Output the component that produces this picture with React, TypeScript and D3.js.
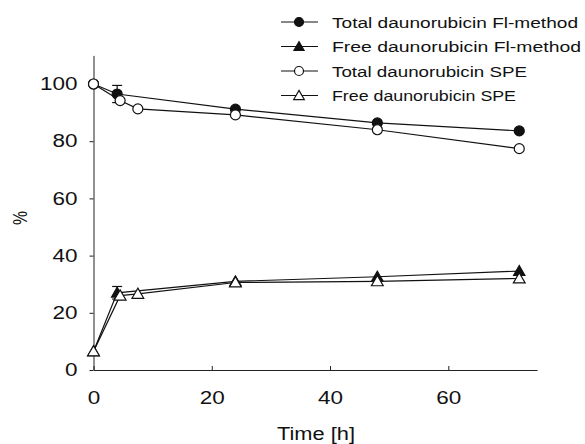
import React, { useEffect, useRef } from 'react';
import * as d3 from 'd3';

// time points (h)
const timesFI = [0, 4, 24, 48, 72];
const timesSPE = [0, 4.5, 7.5, 24, 48, 72];

// percent values
const totalFI = [100, 96.5, 91.2, 86.4, 83.6];
const freeFI = [6.5, 27, 31, 32.6, 34.6];
const totalSPE = [100, 94.2, 91.3, 89.2, 84, 77.4];
const freeSPE = [6.5, 26, 26.6, 30.6, 31, 32];

// error bars (t, value, sd)
const errorBars = [
  { t: 4, v: 96.5, sd: 3 },
  { t: 4, v: 27, sd: 2.2 },
];

const xTicks = [0, 20, 40, 60];
const yTicks = [0, 20, 40, 60, 80, 100];

const legendLabels = [
  'Total daunorubicin Fl-method',
  'Free daunorubicin Fl-method',
  'Total daunorubicin SPE',
  'Free daunorubicin SPE',
];
// the scan is stretched sideways, so the text widths are set by hand
const legendWidths = [246, 249, 195, 184];

type Marker = 'circleFilled' | 'triangleFilled' | 'circleOpen' | 'triangleOpen';
const markers: Marker[] = ['circleFilled', 'triangleFilled', 'circleOpen', 'triangleOpen'];

const App = () => {
  const ref = useRef<SVGSVGElement>(null);

  useEffect(() => {
    const width = 585;
    const height = 444;
    const left = 93.5;
    const right = 537;
    const bottom = 370;

    const svg = d3.select(ref.current);
    svg.selectAll('*').remove();

    const x = d3.scaleLinear().domain([0, 75]).range([left, right]);
    const y = d3.scaleLinear().domain([0, 110]).range([bottom, bottom - 110 * 2.86]);

    const font = 'Liberation Sans, Arial, sans-serif';
    const digitW = 12.5;

    // axes
    const xAxis = svg.append('g')
      .attr('transform', `translate(0,${bottom})`)
      .call(d3.axisBottom(x).tickValues(xTicks).tickSize(-4).tickPadding(21).tickSizeOuter(0));
    xAxis.select('.domain').attr('stroke', '#222');
    xAxis.selectAll('line').attr('stroke', '#222');
    xAxis.selectAll('text')
      .attr('font-family', font).attr('font-size', 18).attr('fill', '#111')
      .attr('textLength', (d: any) => String(d).length * digitW)
      .attr('lengthAdjust', 'spacingAndGlyphs');

    const yAxis = svg.append('g')
      .attr('transform', `translate(${left},0)`)
      .call(d3.axisLeft(y).tickValues(yTicks).tickSize(4).tickPadding(12).tickSizeOuter(0));
    yAxis.select('.domain').attr('stroke', '#222');
    yAxis.selectAll('line').attr('stroke', '#222');
    yAxis.selectAll('text')
      .attr('font-family', font).attr('font-size', 18).attr('fill', '#111')
      .attr('textLength', (d: any) => String(d).length * digitW)
      .attr('lengthAdjust', 'spacingAndGlyphs');

    svg.append('text')
      .attr('x', 316)
      .attr('y', 440)
      .attr('text-anchor', 'middle')
      .attr('font-family', font)
      .attr('font-size', 18)
      .attr('fill', '#111')
      .attr('textLength', 78)
      .attr('lengthAdjust', 'spacingAndGlyphs')
      .text('Time [h]');

    svg.append('text')
      .attr('transform', `translate(27,218) rotate(-90)`)
      .attr('text-anchor', 'middle')
      .attr('font-family', font)
      .attr('font-size', 21)
      .attr('fill', '#111')
      .attr('textLength', 14)
      .attr('lengthAdjust', 'spacingAndGlyphs')
      .text('%');

    const series = [
      { t: timesFI, v: totalFI },
      { t: timesFI, v: freeFI },
      { t: timesSPE, v: totalSPE },
      { t: timesSPE, v: freeSPE },
    ];

    const line = d3.line<[number, number]>().x(d => x(d[0])).y(d => y(d[1]));

    const drawMarker = (g: any, m: Marker, cx: number, cy: number, scale = 1) => {
      const filled = m === 'circleFilled' || m === 'triangleFilled';
      if (m.startsWith('circle')) {
        g.append('circle')
          .attr('cx', cx).attr('cy', cy).attr('r', 5 * scale)
          .attr('fill', filled ? '#111' : '#fff')
          .attr('stroke', '#111').attr('stroke-width', 1.2);
      } else {
        const s = d3.symbol().type(d3.symbolTriangle).size((filled ? 55 : 60) * scale * scale)();
        g.append('path')
          .attr('d', s)
          .attr('transform', `translate(${cx},${cy + 1})`)
          .attr('fill', filled ? '#111' : '#fff')
          .attr('stroke', '#111').attr('stroke-width', 1.2);
      }
    };

    // error bars
    errorBars.forEach(e => {
      const g = svg.append('g').attr('stroke', '#111').attr('stroke-width', 1.2);
      g.append('line').attr('x1', x(e.t)).attr('x2', x(e.t)).attr('y1', y(e.v - e.sd)).attr('y2', y(e.v + e.sd));
      [e.v - e.sd, e.v + e.sd].forEach(val => {
        g.append('line').attr('x1', x(e.t) - 5).attr('x2', x(e.t) + 5).attr('y1', y(val)).attr('y2', y(val));
      });
    });

    series.forEach(s => {
      const pts = s.t.map((t, j) => [t, s.v[j]] as [number, number]);
      svg.append('path')
        .attr('d', line(pts))
        .attr('fill', 'none')
        .attr('stroke', '#111')
        .attr('stroke-width', 1.2);
    });
    series.forEach((s, i) => {
      const g = svg.append('g');
      s.t.forEach((t, j) => drawMarker(g, markers[i], x(t), y(s.v[j])));
    });

    // legend
    const legend = svg.append('g');
    legendLabels.forEach((label, i) => {
      const ly = 22 + i * 24.5;
      legend.append('line')
        .attr('x1', 281).attr('x2', 318).attr('y1', ly).attr('y2', ly)
        .attr('stroke', '#111').attr('stroke-width', 1);
      drawMarker(legend, markers[i], 299, ly, 0.9);
      legend.append('text')
        .attr('x', 332).attr('y', ly + 5.5)
        .attr('font-family', font)
        .attr('font-size', 15.5)
        .attr('fill', '#111')
        .attr('textLength', legendWidths[i])
        .attr('lengthAdjust', 'spacingAndGlyphs')
        .text(label);
    });

    svg.attr('width', width).attr('height', height);
  }, []);

  return (
    <svg ref={ref} width={585} height={444} style={{ position: 'absolute', left: 0, top: 0, background: '#fff' }} />
  );
};

export default App;
